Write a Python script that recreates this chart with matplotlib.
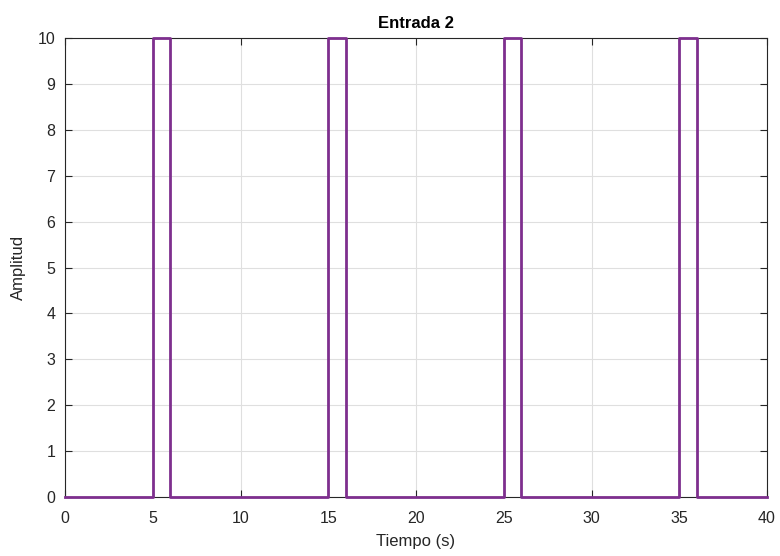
import matplotlib
matplotlib.use('Agg')
import matplotlib.pyplot as plt

plt.rcParams['font.family'] = ['Liberation Sans', 'DejaVu Sans']

# step signal: time of each change, value held after it
t = [0, 5, 6, 15, 16, 25, 26, 35, 36, 40]
y = [0, 10, 0, 10, 0, 10, 0, 10, 0, 0]
xticks = [0, 5, 10, 15, 20, 25, 30, 35, 40]
yticks = [0, 1, 2, 3, 4, 5, 6, 7, 8, 9, 10]

fig = plt.figure(figsize=(7.8, 5.56), dpi=100)
ax = fig.add_axes([65/780, 1 - 497/556, (767 - 65)/780, (497 - 38)/556])

ax.plot(t, y, drawstyle='steps-post', color=(0.494, 0.184, 0.556), lw=2, zorder=3, clip_on=False)

ax.set_xlim(0, 40)
ax.set_ylim(0, 10)
ax.set_xticks(xticks)
ax.set_yticks(yticks)
ax.grid(True, color='#dfdfdf', lw=0.8)
ax.set_axisbelow(True)

axc = '#262626'
for s in ax.spines.values():
    s.set_color(axc)
    s.set_linewidth(0.8)
ax.tick_params(direction='in', top=True, right=True, length=5, width=0.8,
               color=axc, labelcolor=axc, labelsize=11.5)
ax.tick_params(axis='x', pad=10)
ax.tick_params(axis='y', pad=7)

ax.set_xlabel('Tiempo (s)', fontsize=12, color=axc, labelpad=6)
ax.set_ylabel('Amplitud', fontsize=12, color=axc, labelpad=8)
ax.set_title('Entrada 2', fontsize=12, fontweight='bold', color='black', pad=7)

fig.savefig('out.png', dpi=100)
